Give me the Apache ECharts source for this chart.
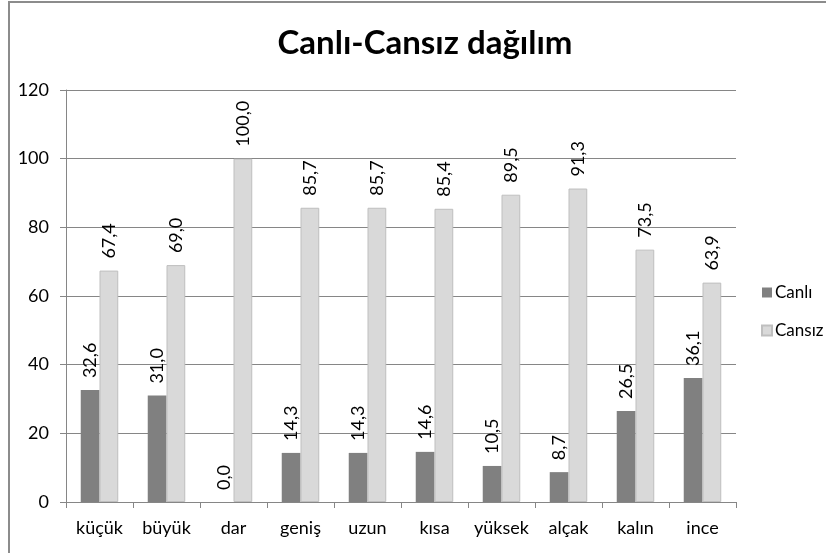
<!DOCTYPE html>
<html>
<head>
<meta charset="utf-8">
<style>
    html, body { margin: 0; padding: 0; background: #fff; }
    #chart { width: 826px; height: 553px; }
</style>
<script src="https://cdn.jsdelivr.net/npm/echarts@6/dist/echarts.min.js"></script>
</head>
<body>
<div id="chart"></div>
<script>
    const categories = ["küçük", "büyük", "dar", "geniş", "uzun", "kısa", "yüksek", "alçak", "kalın", "ince"];
    const canliValues = [32.6, 31.0, 0.0, 14.3, 14.3, 14.6, 10.5, 8.7, 26.5, 36.1];
    const cansizValues = [67.4, 69.0, 100.0, 85.7, 85.7, 85.4, 89.5, 91.3, 73.5, 63.9];
    const yTicks = [0, 20, 40, 60, 80, 100, 120];

    const fontFamily = "Lato, 'Open Sans', sans-serif";
    const axisGray = "#868686";

    const formatValue = (value) => Number(value).toFixed(1).replace(".", ",");

    const barLabel = {
        show: true,
        position: "top",
        rotate: 90,
        align: "left",
        verticalAlign: "middle",
        distance: 12,
        color: "#000",
        fontSize: 18,
        fontFamily,
        formatter: (params) => formatValue(params.value)
    };

    const chart = echarts.init(document.getElementById("chart"), null, { renderer: "canvas" });

    chart.setOption({
        animation: false,
        textStyle: { fontFamily },
        graphic: [
            {
                type: "rect",
                shape: { x: 9, y: 2, width: 840, height: 580 },
                style: { fill: "none", stroke: "#8c8c8c", lineWidth: 2 },
                silent: true
            }
        ],
        title: {
            text: "Canlı-Cansız dağılım",
            left: 420,
            top: 22,
            textAlign: "center",
            textStyle: {
                fontFamily,
                fontWeight: "bold",
                fontSize: 33,
                color: "#000"
            }
        },
        legend: {
            orient: "vertical",
            left: 761,
            top: 284,
            padding: 0,
            itemWidth: 10,
            itemHeight: 10,
            itemGap: 21,
            icon: "rect",
            textStyle: { fontFamily, fontSize: 17, color: "#000", padding: [0, 0, 0, -2] },
            data: ["Canlı", "Cansız"]
        },
        grid: {
            left: 66,
            top: 90,
            width: 670,
            height: 412,
            containLabel: false
        },
        xAxis: {
            type: "category",
            data: categories,
            axisLine: { lineStyle: { color: axisGray, width: 1 } },
            axisTick: { show: true, length: 6, interval: 0, lineStyle: { color: axisGray } },
            axisLabel: { color: "#000", fontSize: 18, fontFamily, margin: 17, interval: 0, hideOverlap: false }
        },
        yAxis: {
            type: "value",
            min: yTicks[0],
            max: yTicks[yTicks.length - 1],
            interval: 20,
            axisLine: { show: true, lineStyle: { color: axisGray, width: 1 } },
            axisTick: { show: true, length: 6, lineStyle: { color: axisGray } },
            splitLine: { lineStyle: { color: axisGray, width: 1 } },
            axisLabel: { color: "#000", fontSize: 18, fontFamily, margin: 17 }
        },
        series: [
            {
                name: "Canlı",
                type: "bar",
                data: canliValues,
                barGap: "0%",
                barCategoryGap: "44%",
                itemStyle: { color: "#808080" },
                label: barLabel
            },
            {
                name: "Cansız",
                type: "bar",
                data: cansizValues,
                barGap: "0%",
                barCategoryGap: "44%",
                itemStyle: { color: "#d9d9d9", borderColor: "#bfbfbf", borderWidth: 1 },
                label: barLabel
            }
        ]
    });
</script>
</body>
</html>
